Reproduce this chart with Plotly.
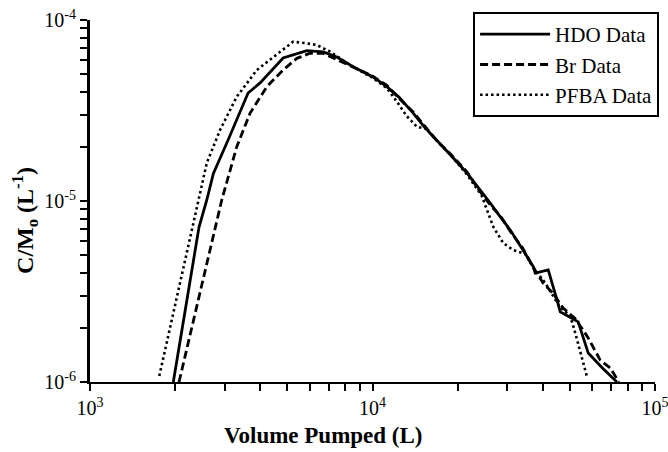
import plotly.graph_objects as go

# ---- data ----
hdo_x = [1972, 2432, 2591, 2734, 3082, 3627, 4000, 4826, 5856, 6686, 7476, 8542,
         10000, 11240, 12400, 13930, 15300, 16900, 19000, 21590, 23800, 26110,
         28300, 30730, 34000, 37060, 37670, 41880, 44980, 46200, 49500, 53480,
         58030, 65000, 73340]
hdo_y = [1.0e-6, 7.18e-6, 1.013e-5, 1.422e-5, 2.173e-5, 3.95e-5, 4.49e-5, 6.17e-5,
         6.77e-5, 6.66e-5, 6.25e-5, 5.52e-5, 4.86e-5, 4.28e-5, 3.75e-5, 3.06e-5,
         2.55e-5, 2.17e-5, 1.78e-5, 1.428e-5, 1.18e-5, 9.75e-6, 8.2e-6, 6.92e-6,
         5.4e-6, 4.34e-6, 4.0e-6, 4.16e-6, 2.84e-6, 2.44e-6, 2.3e-6, 2.15e-6,
         1.445e-6, 1.2e-6, 1.0e-6]

br_x = [2066, 2927, 3308, 3687, 4225, 4826, 5396, 6013, 6686, 7476, 8542, 10000,
        11240, 12400, 13930, 15300, 16900, 19000, 21590, 23800, 26110, 28300,
        30730, 34000, 37060, 40190, 43500, 47330, 52000, 55500, 58030, 63990,
        69460, 74500]
br_y = [1.0e-6, 1.013e-5, 1.995e-5, 3.06e-5, 4.28e-5, 5.29e-5, 6.14e-5, 6.55e-5,
        6.55e-5, 6.05e-5, 5.45e-5, 4.9e-5, 4.35e-5, 3.7e-5, 3.1e-5, 2.6e-5,
        2.15e-5, 1.8e-5, 1.45e-5, 1.15e-5, 9.5e-6, 8.3e-6, 6.8e-6, 5.5e-6,
        4.3e-6, 3.52e-6, 3.1e-6, 2.56e-6, 2.25e-6, 1.95e-6, 1.75e-6, 1.32e-6,
        1.195e-6, 1.0e-6]

pfba_x = [1759, 2413, 2591, 2887, 3308, 3894, 4826, 5236, 5800, 6353, 7079, 8542,
          10000, 11240, 12190, 13200, 14360, 15500, 16900, 19000, 21590, 24300,
          26760, 29020, 31480, 34720, 37060, 41000, 46000, 50120, 52210, 57420]
pfba_y = [1.08e-6, 1.013e-5, 1.622e-5, 2.47e-5, 3.77e-5, 5.29e-5, 6.83e-5, 7.59e-5,
          7.45e-5, 7.27e-5, 6.68e-5, 5.5e-5, 4.8e-5, 4.2e-5, 3.55e-5, 2.95e-5,
          2.57e-5, 2.5e-5, 2.15e-5, 1.78e-5, 1.4e-5, 1.08e-5, 7.21e-6, 5.86e-6,
          5.36e-6, 5.1e-6, 4.3e-6, 3.5e-6, 2.6e-6, 2.32e-6, 1.865e-6, 1.07e-6]

series_names = ["HDO Data", "Br Data", "PFBA Data"]
x_title = "Volume Pumped (L)"
y_title = "C/M<sub>o</sub> (L<sup>-1</sup>)"
x_decades = [3, 4, 5]
y_decades = [-6, -5, -4]

# tick positions: decades (labelled) plus 2..9 within each decade (unlabelled)
def log_ticks(decades):
    vals, text = [], []
    for i, e in enumerate(decades):
        vals.append(10.0 ** e)
        text.append("10<sup>%d</sup>" % e)
        if i < len(decades) - 1:
            for m in range(2, 10):
                vals.append(m * 10.0 ** e)
                text.append("")
    return vals, text

x_tickvals, x_ticktext = log_ticks(x_decades)
y_tickvals, y_ticktext = log_ticks(y_decades)

FONT = "Liberation Serif, Times New Roman, serif"

fig = go.Figure()
fig.add_trace(go.Scatter(x=hdo_x, y=hdo_y, mode="lines", name=series_names[0],
                         line=dict(color="black", width=2.8)))
fig.add_trace(go.Scatter(x=br_x, y=br_y, mode="lines", name=series_names[1],
                         line=dict(color="black", width=2.8, dash="8px,4px")))
fig.add_trace(go.Scatter(x=pfba_x, y=pfba_y, mode="lines", name=series_names[2],
                         line=dict(color="black", width=2.6, dash="2.5px,3px")))

tickfont = dict(family=FONT, size=20, color="black")
axis_common = dict(type="log", showgrid=False, zeroline=False, showline=True,
                   linecolor="black", ticks="outside", tickcolor="black",
                   ticklen=7, tickwidth=2, tickmode="array",
                   ticklabeloverflow="allow", tickfont=tickfont)
fig.update_xaxes(range=[x_decades[0], x_decades[-1]], linewidth=2,
                 tickvals=x_tickvals, ticktext=x_ticktext, **axis_common)
fig.update_yaxes(range=[y_decades[0], y_decades[-1]], linewidth=3,
                 tickvals=y_tickvals, ticktext=y_ticktext, **axis_common)

fig.update_layout(
    width=668, height=452, autosize=False,
    margin=dict(l=90, r=13, t=20, b=70, autoexpand=False),
    plot_bgcolor="white", paper_bgcolor="white",
    font=dict(family=FONT, color="black"),
    showlegend=True,
    legend=dict(x=0.678, y=1.022, xanchor="left", yanchor="top",
                bgcolor="white", bordercolor="black", borderwidth=2,
                font=dict(family=FONT, size=21, color="black"),
                itemwidth=70, tracegroupgap=0),
    annotations=[
        dict(text="<b>" + x_title + "</b>", xref="paper", yref="paper",
             x=0.4136, y=-0.148, xanchor="center", yanchor="middle",
             showarrow=False, font=dict(family=FONT, size=23, color="black")),
        dict(text="<b>" + y_title + "</b>", xref="paper", yref="paper",
             x=-0.115, y=0.445, xanchor="center", yanchor="middle", textangle=-90,
             showarrow=False, font=dict(family=FONT, size=24, color="black")),
    ],
)

fig.write_html("out.html", config={"displayModeBar": False},
               post_script="document.body.style.margin='0';document.body.style.padding='0';")
